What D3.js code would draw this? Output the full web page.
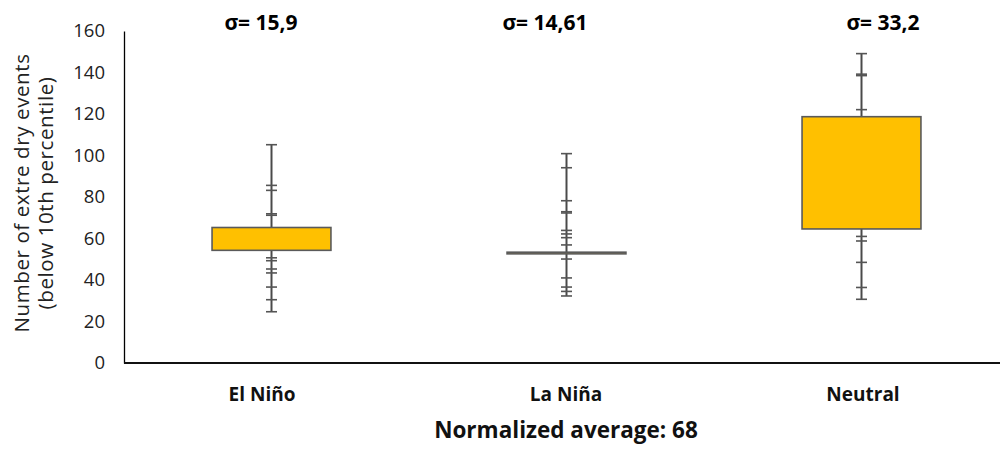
<!DOCTYPE html>
<html>
<head>
<meta charset="utf-8">
<script src="https://cdn.jsdelivr.net/npm/d3@7"></script>
<style>
  body{margin:0;background:#fff;}
  svg{display:block;font-family:"Open Sans",sans-serif;}
</style>
</head>
<body>
<svg id="chart" width="1000" height="460"></svg>
<script>
// data -------------------------
var categories=['El Niño','La Niña','Neutral'];
var sigmaLabels=['σ= 15,9','σ= 14,61','σ= 33,2'];
var boxLow=[54.3,52.6,64.6];
var boxHigh=[65.3,53.4,118.7];
// individual marks along each whisker
var elNinoMarks=[105.2,85.6,83.2,71.9,71.2,50.7,49.3,45.3,43.4,36.6,30.5,24.7];
var laNinaMarks=[100.9,94.1,78.2,72.9,72.3,63.9,62.2,60.4,56.9,50.1,41.0,36.6,34.5,32.3];
var neutralMarks=[149.1,139.2,138.5,122.1,61.0,58.8,48.5,36.4,30.7];
var yTicks=[0,20,40,60,80,100,120,140,160];
var footer='Normalized average: 68';

var marks=[elNinoMarks,laNinaMarks,neutralMarks];

// layout (note: "top" is taken by window.top, so m prefix)
var svg=d3.select('#chart');
var mLeft=124,mRight=1009,mTop=31,mBottom=363;

var x=d3.scaleBand().domain(categories).range([mLeft,mRight]);
var y=d3.scaleLinear().domain([0,160]).range([mBottom,mTop]);
var boxW=x.bandwidth()*0.403;
var capW=11;

// y axis
var yAxis=svg.append('g')
  .attr('transform','translate('+mLeft+',0)')
  .call(d3.axisLeft(y).tickValues(yTicks).tickSize(0).tickPadding(19));
yAxis.select('.domain').attr('stroke','#000').attr('stroke-width',1.3);
yAxis.selectAll('text').attr('font-size',18.5).attr('fill','#222')
  .attr('font-family','"Open Sans",sans-serif');

// x axis line
svg.append('line')
  .attr('x1',mLeft).attr('x2',1000)
  .attr('y1',mBottom).attr('y2',mBottom)
  .attr('stroke','#111').attr('stroke-width',2);

// boxes + whiskers
categories.forEach(function(cat,i){
  var cx=x(cat)+x.bandwidth()/2;
  var vals=marks[i];
  var g=svg.append('g').attr('class','box');

  g.append('line')
    .attr('x1',cx).attr('x2',cx)
    .attr('y1',y(d3.max(vals))).attr('y2',y(d3.min(vals)))
    .attr('stroke','#4a4a4a').attr('stroke-width',2);

  g.selectAll('.mark').data(vals).enter().append('line')
    .attr('class','mark')
    .attr('x1',cx-capW/2).attr('x2',cx+capW/2)
    .attr('y1',function(d){return y(d);})
    .attr('y2',function(d){return y(d);})
    .attr('stroke','#555').attr('stroke-width',1.6);

  g.append('rect')
    .attr('x',cx-boxW/2)
    .attr('y',y(boxHigh[i]))
    .attr('width',boxW)
    .attr('height',y(boxLow[i])-y(boxHigh[i]))
    .attr('fill','#FFC000')
    .attr('stroke','#5a5a5a').attr('stroke-width',1.6);
});

// sigma labels
var sigmaX=[261,545,883];
svg.selectAll('.sigma').data(sigmaLabels).enter().append('text')
  .attr('class','sigma')
  .attr('x',function(d,i){return sigmaX[i];}).attr('y',30)
  .attr('text-anchor','middle')
  .attr('font-size',21).attr('font-weight','bold').attr('fill','#000')
  .text(function(d){return d;});

// category labels
var catX=[262,566,863];
svg.selectAll('.cat').data(categories).enter().append('text')
  .attr('class','cat')
  .attr('x',function(d,i){return catX[i];}).attr('y',401)
  .attr('text-anchor','middle')
  .attr('font-size',19).attr('font-weight','bold').attr('fill','#111')
  .text(function(d){return d;});

// axis title
var title=svg.append('text')
  .attr('transform','translate(0,193) rotate(-90)')
  .attr('text-anchor','middle')
  .attr('font-size',20.5).attr('letter-spacing',0.6).attr('fill','#222');
title.append('tspan').attr('x',0).attr('y',29).text('Number of extre dry events');
title.append('tspan').attr('x',0).attr('y',53).text('(below 10th percentile)');

// footer
svg.append('text')
  .attr('x',566).attr('y',438)
  .attr('text-anchor','middle')
  .attr('font-size',22.5).attr('font-weight','bold').attr('fill','#111')
  .text(footer);
</script>
</body>
</html>
